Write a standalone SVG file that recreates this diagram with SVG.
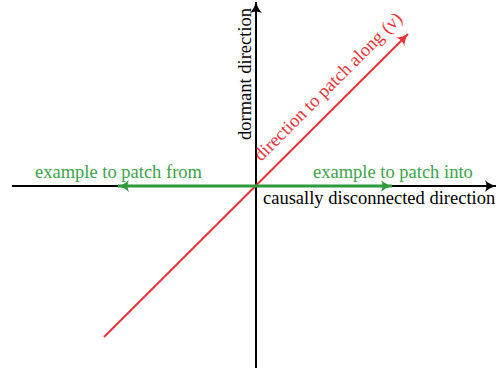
<svg xmlns="http://www.w3.org/2000/svg" width="498" height="370" viewBox="0 0 498 370">
<style>
text{font-family:"Liberation Serif","Times New Roman",serif;font-size:18.5px}
.blk{fill:#000}
.grn{fill:#3da34a}
.red{fill:#e8323a}
</style>
<defs>
<marker id="ab" markerWidth="14" markerHeight="12" viewBox="-12 -6 14 12" refX="0" refY="0" orient="auto" markerUnits="userSpaceOnUse">
<path d="M0,0 Q-7,-2 -11,-6 Q-8,0 -11,6 Q-7,2 0,0Z" fill="#000"/>
</marker>
<marker id="ag" markerWidth="14" markerHeight="12" viewBox="-12 -6 14 12" refX="0" refY="0" orient="auto" markerUnits="userSpaceOnUse">
<path d="M0,0 Q-7,-2 -11,-6 Q-8,0 -11,6 Q-7,2 0,0Z" fill="#2f9a3c"/>
</marker>
<marker id="ar" markerWidth="14" markerHeight="12" viewBox="-12 -6 14 12" refX="0" refY="0" orient="auto" markerUnits="userSpaceOnUse">
<path d="M0,0 Q-7,-2 -11,-6 Q-8,0 -11,6 Q-7,2 0,0Z" fill="#e8323a"/>
</marker>
</defs>
<g id="connectors">
<line x1="12" y1="186" x2="496" y2="186" stroke="#000" stroke-width="2" marker-end="url(#ab)"/>
<line x1="256" y1="368" x2="256" y2="2" stroke="#000" stroke-width="2" marker-end="url(#ab)"/>
<line x1="104" y1="337" x2="408" y2="34" stroke="#e8323a" stroke-width="2" marker-end="url(#ar)"/>
<line x1="256" y1="186" x2="392" y2="186" stroke="#2f9a3c" stroke-width="3" marker-end="url(#ag)"/>
<line x1="256" y1="186" x2="118" y2="186" stroke="#2f9a3c" stroke-width="3" marker-end="url(#ag)"/>
</g>
<g id="dormant"><text class="blk" transform="translate(251,140) rotate(-90)">dormant direction</text></g>
<g id="causal"><text class="blk" x="263" y="204">causally disconnected direction</text></g>
<g id="patch-along"><text class="red" transform="translate(261,162) rotate(-45)">direction to patch along (v)</text></g>
<g id="patch-from"><text class="grn" x="35" y="178">example to patch from</text></g>
<g id="patch-into"><text class="grn" x="313" y="178">example to patch into</text></g>
</svg>
